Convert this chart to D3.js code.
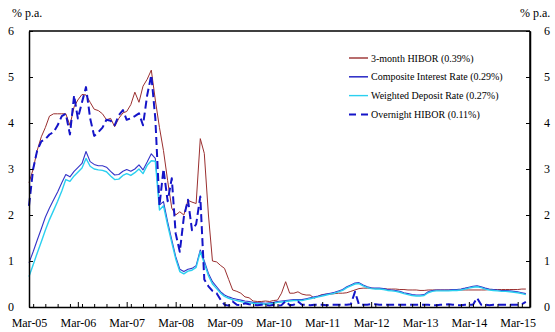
<!DOCTYPE html>
<html>
<head>
<meta charset="utf-8">
<script src="https://cdn.jsdelivr.net/npm/d3@7/dist/d3.min.js"></script>
<style>
  html, body { margin: 0; padding: 0; background: #fff; }
  svg { display: block; font-family: "Liberation Serif", "Times New Roman", serif; }
</style>
</head>
<body>
<svg id="chart" width="555" height="332"></svg>
<script>
// Monthly observations, March 2005 to May 2015 (% p.a.)
const firstMonth = new Date(2005, 2, 1);
const lastMonth = new Date(2015, 4, 1);

const hibor3m = [
  2.70, 3.00, 3.40, 3.70, 3.90, 4.15, 4.20, 4.20, 4.20, 4.20,
  3.95, 4.35, 4.50, 4.62, 4.61, 4.45, 4.30, 4.27, 4.20, 4.07,
  4.10, 3.92, 4.10, 4.22, 4.25, 4.40, 4.67, 4.45, 4.80, 4.95,
  5.15, 4.50, 3.90, 3.40, 2.75, 2.15, 2.00, 2.07, 2.00, 2.32,
  2.28, 2.25, 3.66, 3.34, 2.00, 1.00, 0.98, 0.90, 0.84, 0.60,
  0.37, 0.34, 0.30, 0.22, 0.20, 0.13, 0.12, 0.12, 0.13, 0.12,
  0.14, 0.15, 0.30, 0.55, 0.30, 0.30, 0.33, 0.28, 0.26, 0.26,
  0.19, 0.24, 0.27, 0.28, 0.28, 0.29, 0.30, 0.30, 0.31, 0.34,
  0.37, 0.40, 0.41, 0.41, 0.41, 0.40, 0.40, 0.40, 0.39, 0.39,
  0.39, 0.38, 0.38, 0.37, 0.37, 0.37, 0.36, 0.36, 0.37, 0.37,
  0.37, 0.37, 0.37, 0.37, 0.37, 0.37, 0.37, 0.37, 0.37, 0.37,
  0.37, 0.37, 0.37, 0.38, 0.38, 0.38, 0.38, 0.38, 0.38, 0.38,
  0.38, 0.39, 0.39
];

const compositeRate = [
  0.96, 1.20, 1.45, 1.70, 1.95, 2.15, 2.33, 2.50, 2.70, 2.88,
  2.83, 2.95, 3.03, 3.12, 3.38, 3.16, 3.10, 3.07, 3.07, 3.04,
  2.95, 2.87, 2.88, 2.95, 2.99, 2.95, 3.00, 3.09, 2.98, 3.15,
  3.33, 3.23, 2.22, 2.29, 1.85, 1.46, 1.10, 0.82, 0.77, 0.82,
  0.84, 0.90, 1.24, 1.00, 0.73, 0.55, 0.44, 0.33, 0.26, 0.22,
  0.19, 0.17, 0.15, 0.13, 0.12, 0.10, 0.09, 0.09, 0.08, 0.09,
  0.10, 0.12, 0.13, 0.14, 0.15, 0.16, 0.16, 0.16, 0.18, 0.20,
  0.22, 0.24, 0.26, 0.28, 0.30, 0.32, 0.35, 0.38, 0.44, 0.48,
  0.52, 0.53, 0.48, 0.44, 0.42, 0.41, 0.41, 0.40, 0.38, 0.37,
  0.36, 0.34, 0.31, 0.29, 0.27, 0.26, 0.26, 0.27, 0.33, 0.36,
  0.37, 0.37, 0.37, 0.37, 0.38, 0.38, 0.39, 0.41, 0.43, 0.45,
  0.46, 0.44, 0.41, 0.39, 0.38, 0.37, 0.36, 0.36, 0.35, 0.34,
  0.33, 0.31, 0.29
];

const weightedDeposit = [
  0.66, 0.92, 1.17, 1.42, 1.67, 1.90, 2.10, 2.30, 2.52, 2.77,
  2.73, 2.85, 2.93, 3.02, 3.23, 3.06, 3.00, 2.98, 2.97, 2.94,
  2.85, 2.77, 2.78, 2.86, 2.90, 2.86, 2.92, 3.00, 2.90, 3.08,
  3.18, 3.17, 2.11, 2.20, 1.78, 1.40, 1.05, 0.77, 0.72, 0.78,
  0.80, 0.86, 1.20, 0.95, 0.68, 0.50, 0.40, 0.30, 0.23, 0.19,
  0.16, 0.14, 0.12, 0.10, 0.09, 0.08, 0.07, 0.07, 0.06, 0.07,
  0.08, 0.10, 0.11, 0.12, 0.13, 0.14, 0.14, 0.14, 0.16, 0.18,
  0.20, 0.22, 0.24, 0.26, 0.28, 0.30, 0.33, 0.36, 0.42, 0.46,
  0.50, 0.51, 0.46, 0.42, 0.40, 0.39, 0.39, 0.38, 0.36, 0.35,
  0.34, 0.32, 0.29, 0.27, 0.25, 0.24, 0.24, 0.25, 0.31, 0.34,
  0.35, 0.35, 0.35, 0.35, 0.36, 0.36, 0.37, 0.39, 0.41, 0.43,
  0.44, 0.42, 0.39, 0.37, 0.36, 0.35, 0.34, 0.34, 0.33, 0.32,
  0.31, 0.29, 0.27
];

const hiborOvernight = [
  2.20, 3.00, 3.40, 3.60, 3.65, 3.75, 3.80, 3.95, 4.15, 4.20,
  3.75, 4.60, 4.10, 4.45, 4.78, 4.10, 3.72, 3.80, 3.90, 4.07,
  4.05, 3.95, 4.17, 4.28, 4.07, 4.10, 4.15, 4.21, 3.95, 4.60,
  5.04, 4.10, 2.20, 3.00, 2.30, 2.80, 1.60, 1.20, 1.95, 2.33,
  1.67, 1.80, 2.40, 0.60, 0.45, 0.35, 0.30, 0.15, 0.05, 0.03,
  0.12, 0.05, 0.04, 0.08, 0.06, 0.05, 0.04, 0.05, 0.04, 0.03,
  0.05, 0.03, 0.04, 0.13, 0.04, 0.05, 0.12, 0.05, 0.05, 0.04,
  0.05, 0.05, 0.05, 0.04, 0.05, 0.05, 0.05, 0.05, 0.05, 0.06,
  0.33, 0.05, 0.05, 0.05, 0.06, 0.06, 0.05, 0.05, 0.05, 0.05,
  0.05, 0.05, 0.05, 0.05, 0.05, 0.05, 0.05, 0.05, 0.05, 0.04,
  0.04, 0.05, 0.05, 0.06, 0.05, 0.04, 0.04, 0.05, 0.05, 0.05,
  0.20, 0.05, 0.05, 0.04, 0.05, 0.05, 0.05, 0.05, 0.05, 0.05,
  0.05, 0.06, 0.11
];

const seriesNames = [
  "3-month HIBOR (0.39%)",
  "Composite Interest Rate (0.29%)",
  "Weighted Deposit Rate (0.27%)",
  "Overnight HIBOR (0.11%)"
];

const xTickLabels = ["Mar-05", "Mar-06", "Mar-07", "Mar-08", "Mar-09", "Mar-10",
                     "Mar-11", "Mar-12", "Mar-13", "Mar-14", "Mar-15"];
const yTicks = [0, 1, 2, 3, 4, 5, 6];
const unitLabel = "% p.a.";

// ---- layout ----
const plot = { left: 29, right: 530, top: 31, bottom: 307 };
const svg = d3.select("#chart");

const months = d3.timeMonth.range(firstMonth, d3.timeMonth.offset(lastMonth, 1));

const x = d3.scaleTime()
  .domain([firstMonth, d3.timeMonth.offset(lastMonth, 1)])
  .range([plot.left, plot.right]);
const y = d3.scaleLinear().domain([0, 6]).range([plot.bottom, plot.top]);

const series = [
  { name: seriesNames[0], values: hibor3m, color: "#9a2f2f", width: 1, dash: null },
  { name: seriesNames[1], values: compositeRate, color: "#3434c8", width: 1.1, dash: null },
  { name: seriesNames[2], values: weightedDeposit, color: "#2bd0f0", width: 1.4, dash: null },
  { name: seriesNames[3], values: hiborOvernight, color: "#1414c8", width: 2, dash: "8,4" }
];

const line = d3.line()
  .x((d, i) => x(months[i]))
  .y(d => y(d));

// draw order: solid rates, then overnight dashes on top
const drawOrder = [0, 1, 2, 3];
drawOrder.forEach(k => {
  const s = series[k];
  svg.append("path")
    .datum(s.values)
    .attr("fill", "none")
    .attr("stroke", s.color)
    .attr("stroke-width", s.width)
    .attr("stroke-linejoin", "round")
    .attr("stroke-dasharray", s.dash)
    .attr("d", line);
});

// ---- frame ----
const frame = svg.append("g").attr("stroke", "#000").attr("stroke-width", 1.5).attr("fill", "none");
frame.append("line").attr("x1", plot.left).attr("x2", plot.right).attr("y1", plot.top).attr("y2", plot.top);
frame.append("line").attr("x1", plot.right).attr("x2", plot.right).attr("y1", plot.top).attr("y2", plot.bottom);

// ---- x axis: yearly majors (March), quarterly minors, ticks inward ----
const yearTicks = xTickLabels.map((_, i) => new Date(2005 + i, 2, 1));
const quarterTicks = d3.timeMonth.every(3).range(firstMonth, x.domain()[1]);

const xMinor = svg.append("g")
  .attr("transform", `translate(0,${plot.bottom})`)
  .call(d3.axisBottom(x).tickValues(quarterTicks).tickSize(-3).tickFormat(""));
xMinor.select(".domain").remove();
xMinor.selectAll("line").attr("stroke", "#000");

const xMajor = svg.append("g")
  .attr("transform", `translate(0,${plot.bottom})`)
  .call(d3.axisBottom(x).tickValues(yearTicks).tickSize(-5).tickSizeOuter(0)
    .tickFormat((d, i) => xTickLabels[i]));
xMajor.select(".domain").attr("stroke", "#000").attr("stroke-width", 1.5);
xMajor.selectAll("line").attr("stroke", "#000");
xMajor.selectAll("text")
  .attr("y", 11)
  .attr("dy", "0.71em")
  .attr("fill", "#000")
  .style("font-family", "'Liberation Serif', serif")
  .style("font-size", "12px");

// ---- y axes (left and right), ticks inward ----
const yLeft = svg.append("g")
  .attr("transform", `translate(${plot.left},0)`)
  .call(d3.axisLeft(y).tickValues(yTicks).tickSize(-4).tickSizeOuter(0).tickPadding(15).tickFormat(d3.format("d")));
const yRight = svg.append("g")
  .attr("transform", `translate(${plot.right},0)`)
  .call(d3.axisRight(y).tickValues(yTicks).tickSize(-4).tickSizeOuter(0).tickPadding(14).tickFormat(d3.format("d")));
[yLeft, yRight].forEach(g => {
  g.select(".domain").attr("stroke", "#000").attr("stroke-width", 1.5);
  g.selectAll("line").attr("stroke", "#000");
  g.selectAll("text")
    .attr("fill", "#000")
    .style("font-family", "'Liberation Serif', serif")
    .style("font-size", "12px");
});

// unit labels
svg.append("text").attr("x", 12).attr("y", 17)
  .style("font-size", "12px").text(unitLabel);
svg.append("text").attr("x", 520).attr("y", 17)
  .style("font-size", "12px").text(unitLabel);

// ---- legend ----
const legend = svg.append("g").attr("transform", "translate(349,58)");
series.forEach((s, i) => {
  const row = legend.append("g").attr("transform", `translate(0,${i * 18.8})`);
  row.append("line")
    .attr("x1", 0).attr("x2", 19).attr("y1", 0).attr("y2", 0)
    .attr("stroke", s.color)
    .attr("stroke-width", s.dash ? 2 : (i === 1 ? 1.6 : 1.4))
    .attr("stroke-dasharray", s.dash ? "7,5" : null);
  row.append("text")
    .attr("x", 22).attr("y", 0).attr("dy", "0.35em")
    .style("font-size", "10px")
    .attr("fill", "#000")
    .text(s.name);
});
</script>
</body>
</html>
